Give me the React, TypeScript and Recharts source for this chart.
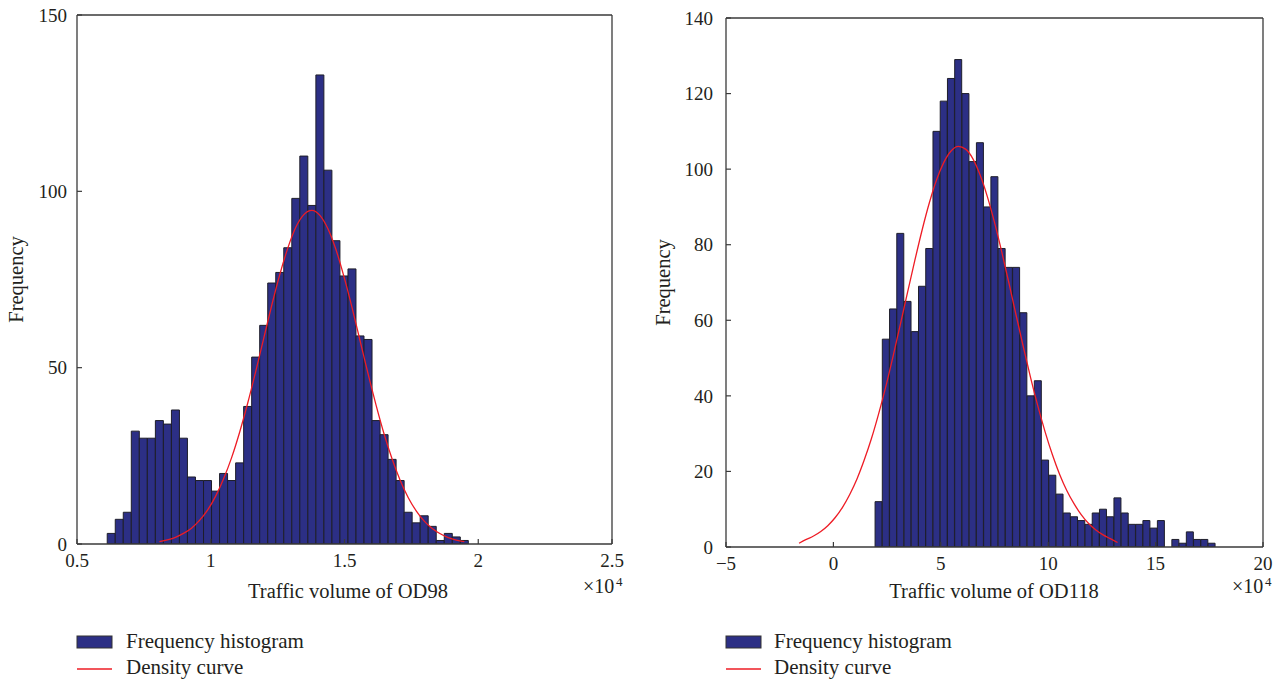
import React from 'react';
import { ComposedChart, Bar, Line, XAxis, YAxis } from 'recharts';

// ---------- Left panel (OD98) ----------
const leftBinStart = 6130;
const leftBinWidth = 300;
const leftCounts = [3, 7, 9, 32, 30, 30, 35, 34, 38, 30, 19, 18, 18, 15, 20, 18, 23, 39, 53, 62, 74, 77, 84, 98, 110, 96, 133, 106, 86, 76, 78, 59, 58, 35, 31, 24, 18, 9, 6, 8, 5, 1, 3, 2, 1];
const leftDensityX = [8080, 8380, 8680, 8980, 9280, 9580, 9880, 10180, 10480, 10780, 11080, 11380, 11680, 11980, 12280, 12580, 12880, 13180, 13480, 13780, 14080, 14380, 14680, 14980, 15280, 15580, 15880, 16180, 16480, 16780, 17080, 17380, 17680, 17980, 18280, 18580, 18880, 19180, 19480];
const leftDensity = [0.7, 1.2, 1.9, 3.0, 4.5, 6.7, 9.6, 13.5, 18.5, 24.5, 31.7, 39.9, 48.9, 58.3, 67.7, 76.4, 83.9, 89.8, 93.4, 94.6, 93.2, 89.4, 83.5, 75.8, 67.1, 57.7, 48.3, 39.4, 31.2, 24.1, 18.1, 13.2, 9.4, 6.5, 4.4, 2.9, 1.8, 1.1, 0.7];
const leftXTicks = [5000, 10000, 15000, 20000, 25000];
const leftYTicks = [0, 50, 100, 150];

// ---------- Right panel (OD118) ----------
const rightBinStart = 19400;
const rightBinWidth = 3370;
const rightCounts: (number | null)[] = [12, 55, 63, 83, 65, 57, 69, 79, 110, 118, 124, 129, 120, 102, 107, 90, 98, 79, 74, 74, 62, 40, 44, 23, 19, 14, 9, 8, 7, 6, 9, 10, 8, 13, 9, 6, 6, 7, 5, 7, null, 2, 1, 4, 2, 2, 1];
const rightDensityX = [-15985, -12615, -9245, -5875, -2505, 865, 4235, 7605, 10975, 14345, 17715, 21085, 24455, 27825, 31195, 34565, 37935, 41305, 44675, 48045, 51415, 54785, 58155, 61525, 64895, 68265, 71635, 75005, 78375, 81745, 85115, 88485, 91855, 95225, 98595, 101965, 105335, 108705, 112075, 115445, 118815, 122185, 125555, 128925, 132295];
const rightDensity = [1.0, 2.0, 2.9, 4.1, 5.7, 7.8, 10.5, 13.9, 18.0, 23.0, 28.7, 35.3, 42.6, 50.6, 59.0, 67.5, 75.9, 83.9, 91.1, 97.2, 101.8, 104.8, 106.0, 105.3, 102.8, 98.5, 92.8, 85.9, 78.1, 69.8, 61.2, 52.8, 44.7, 37.2, 30.4, 24.4, 19.2, 14.9, 11.4, 8.5, 6.2, 4.5, 3.2, 2.2, 1.2];
const rightXTicks = [-50000, 0, 50000, 100000, 150000, 200000];
const rightYTicks = [0, 20, 40, 60, 80, 100, 120, 140];

const legendLabels = ['Frequency histogram', 'Density curve'];

type Row = { x: number; freq?: number | null; density?: number };

function buildRows(binStart: number, binWidth: number, counts: (number | null)[], dx: number[], dy: number[]): Row[] {
  const map = new Map<number, Row>();
  counts.forEach((c, i) => {
    const x = binStart + binWidth * (i + 0.5);
    map.set(x, { x, freq: c });
  });
  dx.forEach((x, i) => {
    const r = map.get(x) || { x };
    r.density = dy[i];
    map.set(x, r);
  });
  return Array.from(map.values()).sort((a, b) => a.x - b.x);
}

const leftRows = buildRows(leftBinStart, leftBinWidth, leftCounts, leftDensityX, leftDensity);
const rightRows = buildRows(rightBinStart, rightBinWidth, rightCounts, rightDensityX, rightDensity);

const FONT = '"Liberation Serif", "Times New Roman", serif';
const AXIS = '#3a3a3a';
const TEXT = '#231f20';
const BAR_FILL = '#2c2f85';
const BAR_STROKE = '#1e1e2a';
const RED = '#ee1c25';

const tickStyle = { fontFamily: FONT, fontSize: 19, fill: TEXT };

const fmtLeft = (v: number) => String(v / 10000);
const fmtRight = (v: number) => (v < 0 ? '\u2212' + String(-v / 10000) : String(v / 10000));

function Panel(props: {
  rows: Row[];
  width: number;
  margin: { top: number; right: number; bottom: number; left: number };
  xDomain: [number, number];
  xTicks: number[];
  yDomain: [number, number];
  yTicks: number[];
  fmt: (v: number) => string;
  yTickMargin: number;
}) {
  const { rows, width, margin, xDomain, xTicks, yDomain, yTicks, fmt, yTickMargin } = props;
  return (
    <ComposedChart width={width} height={681} data={rows} margin={margin} barCategoryGap={0} barGap={0}>
      <XAxis
        dataKey="x"
        type="number"
        domain={xDomain}
        ticks={xTicks}
        allowDataOverflow
        tickFormatter={fmt}
        height={60}
        tickSize={-5}
        tickMargin={15}
        tick={tickStyle}
        axisLine={{ stroke: AXIS, strokeWidth: 1.3 }}
        tickLine={{ stroke: AXIS, strokeWidth: 1.2 }}
        interval={0}
      />
      <XAxis
        xAxisId="top"
        orientation="top"
        type="number"
        domain={xDomain}
        ticks={xTicks}
        allowDataOverflow
        height={1}
        tick={false}
        tickSize={-5}
        axisLine={{ stroke: AXIS, strokeWidth: 1.3 }}
        tickLine={{ stroke: AXIS, strokeWidth: 1.2 }}
        interval={0}
      />
      <YAxis
        type="number"
        domain={yDomain}
        ticks={yTicks}
        allowDataOverflow
        width={60}
        tickSize={-5}
        tickMargin={yTickMargin}
        tick={tickStyle}
        axisLine={{ stroke: AXIS, strokeWidth: 1.3 }}
        tickLine={{ stroke: AXIS, strokeWidth: 1.2 }}
        interval={0}
      />
      <YAxis
        yAxisId="right"
        orientation="right"
        type="number"
        domain={yDomain}
        ticks={yTicks}
        allowDataOverflow
        width={1}
        tick={false}
        tickSize={-5}
        axisLine={{ stroke: AXIS, strokeWidth: 1.3 }}
        tickLine={{ stroke: AXIS, strokeWidth: 1.2 }}
        interval={0}
      />
      <Bar dataKey="freq" fill={BAR_FILL} stroke={BAR_STROKE} strokeWidth={1} isAnimationActive={false} />
      <Line
        dataKey="density"
        type="monotone"
        stroke={RED}
        strokeWidth={1.3}
        dot={false}
        activeDot={false}
        isAnimationActive={false}
      />
    </ComposedChart>
  );
}

function LegendBlock({ x, textX }: { x: number; textX: number }) {
  return (
    <g>
      <rect x={x} y={636} width={35} height={12} fill={BAR_FILL} stroke="#333" strokeWidth={1} />
      <text x={textX} y={648} fontFamily={FONT} fontSize={21} fill={TEXT}>{legendLabels[0]}</text>
      <line x1={x} x2={x + 35} y1={669} y2={669} stroke={RED} strokeWidth={1.3} />
      <text x={textX} y={673.5} fontFamily={FONT} fontSize={21} fill={TEXT}>{legendLabels[1]}</text>
    </g>
  );
}

function TimesTen({ x, y }: { x: number; y: number }) {
  return (
    <g>
      <text x={x} y={y} fontFamily={FONT} fontSize={20} fill={TEXT}>{'\u00d710'}</text>
      <text x={x + 33} y={y - 7} fontFamily={FONT} fontSize={13} fill={TEXT}>4</text>
    </g>
  );
}

export default function App() {
  return (
    <div style={{ position: 'absolute', left: 0, top: 0, width: 1282, height: 681, background: '#fff', overflow: 'hidden' }}>
      <div style={{ position: 'absolute', left: 0, top: 0 }}>
        <Panel
          rows={leftRows}
          width={640}
          margin={{ top: 14, right: 27, bottom: 77, left: 17 }}
          xDomain={[5000, 25000]}
          xTicks={leftXTicks}
          yDomain={[0, 150]}
          yTicks={leftYTicks}
          fmt={fmtLeft}
          yTickMargin={15}
        />
      </div>
      <div style={{ position: 'absolute', left: 640, top: 0 }}>
        <Panel
          rows={rightRows}
          width={642}
          margin={{ top: 17, right: 18, bottom: 74, left: 26 }}
          xDomain={[-50000, 200000]}
          xTicks={rightXTicks}
          yDomain={[0, 140]}
          yTicks={rightYTicks}
          fmt={fmtRight}
          yTickMargin={18}
        />
      </div>
      <svg width={1282} height={681} style={{ position: 'absolute', left: 0, top: 0, pointerEvents: 'none' }}>
        <text transform="translate(23,279.5) rotate(-90)" textAnchor="middle" fontFamily={FONT} fontSize={20.5} fill={TEXT}>Frequency</text>
        <text transform="translate(670,282.5) rotate(-90)" textAnchor="middle" fontFamily={FONT} fontSize={20.5} fill={TEXT}>Frequency</text>
        <text x={348} y={598} textAnchor="middle" fontFamily={FONT} fontSize={20.5} fill={TEXT}>Traffic volume of OD98</text>
        <text x={994} y={598} textAnchor="middle" fontFamily={FONT} fontSize={20.5} fill={TEXT}>Traffic volume of OD118</text>
        <TimesTen x={583} y={593} />
        <TimesTen x={1232} y={593} />
        <LegendBlock x={77} textX={126} />
        <LegendBlock x={726} textX={774} />
      </svg>
    </div>
  );
}
